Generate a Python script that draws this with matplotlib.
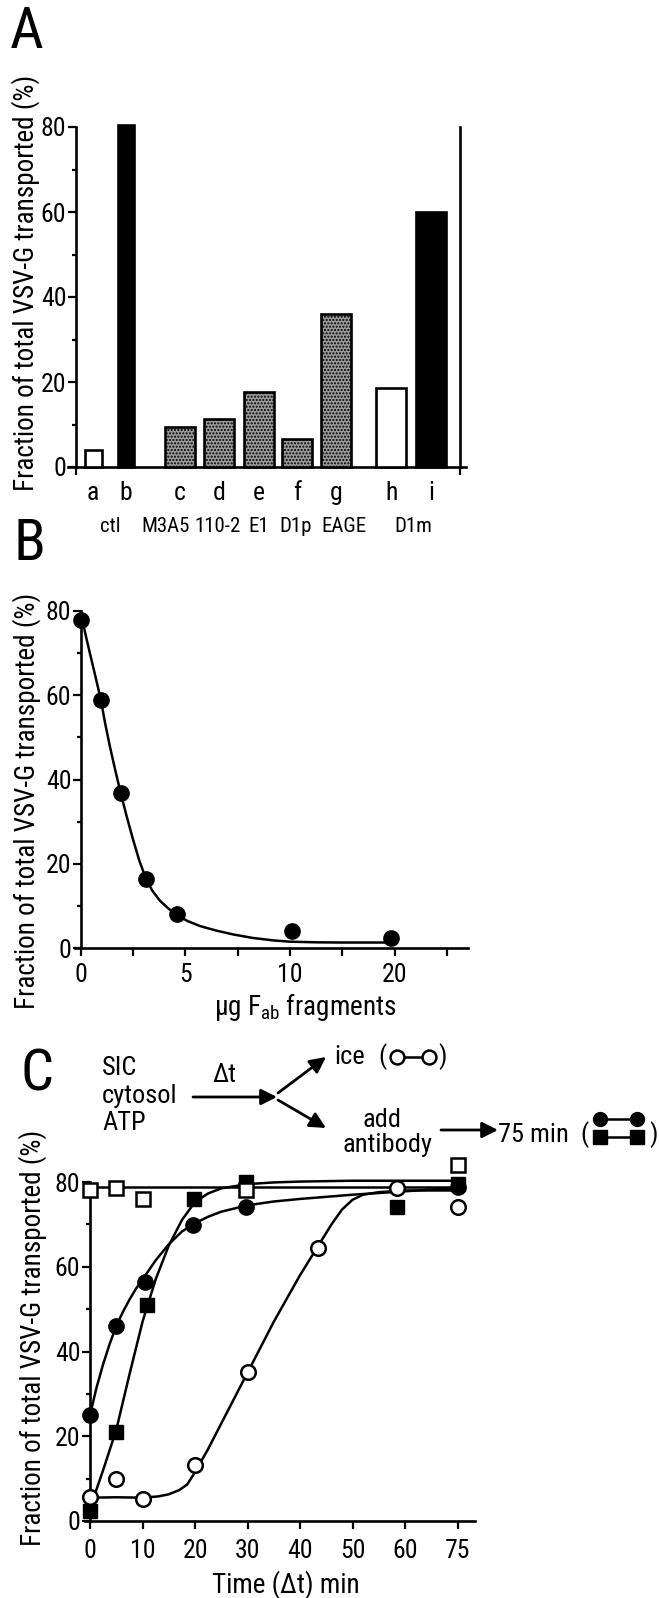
import numpy as np
import matplotlib
matplotlib.use("Agg")
import matplotlib.pyplot as plt
from matplotlib.ticker import FixedLocator

plt.rcParams['font.family'] = ['Liberation Sans Narrow', 'Roboto Condensed', 'Liberation Sans', 'DejaVu Sans']
plt.rcParams['mathtext.fontset'] = 'custom'
plt.rcParams['mathtext.rm'] = 'Roboto Condensed'
plt.rcParams['mathtext.it'] = 'Roboto Condensed'
plt.rcParams['hatch.linewidth'] = 1.0

# ---------------- data ----------------
# Panel A
bar_letters = ['a', 'b', 'c', 'd', 'e', 'f', 'g', 'h', 'i']
bar_values = [4.0, 80.5, 9.4, 11.4, 17.7, 6.5, 36.0, 18.7, 60.0]
bar_styles = ['open', 'solid', 'stipple', 'stipple', 'stipple', 'stipple', 'stipple', 'open', 'solid']
group_labels = ['ctl', 'M3A5', '110-2', 'E1', 'D1p', 'EAGE', 'D1m']

# Panel B
fab_ug = [0, 0.95, 1.9, 3.1, 4.6, 10.2, 19.7]
fab_transport = [77.9, 58.9, 36.8, 16.3, 8.1, 4.0, 2.4]
fab_fit_x = [0, 0.2, 0.43, 0.7, 0.95, 1.15, 1.39, 1.65, 1.9, 2.2, 2.5, 2.8, 3.1, 3.4,
             3.78, 4.2, 4.6, 5.1, 5.7, 6.5, 7.3, 8.2, 9.2, 10, 12.5, 15, 17.5, 20]
fab_fit_y = [79.5, 74.8, 69.9, 64.3, 58.9, 53.5, 47.7, 42.0, 36.8, 31.0, 25.6, 20.6, 16.6, 13.7,
             11.2, 9.3, 7.8, 6.4, 5.2, 4.1, 3.2, 2.4, 1.8, 1.5, 1.35, 1.3, 1.3, 1.3]
fab_ticks = [0, 2.5, 5, 7.5, 10, 15, 20, 25]
fab_ticklabels = ['0', '', '5', '', '10', '', '20', '']

# Panel C
time_ice = [0, 5, 10, 20, 30, 43.5, 58.5, 75]
ice_vals = [5.7, 9.8, 5.3, 13.1, 35.2, 64.5, 78.5, 74.0]
time_ab_circ = [0, 5, 10.5, 19.6, 29.8, 75]
ab_circ_vals = [25.0, 46.0, 56.5, 69.8, 74.2, 78.8]
time_ab_sq = [0, 5, 10.8, 19.8, 29.8, 58.5, 75]
ab_sq_vals = [2.3, 21.0, 51.0, 76.0, 80.0, 74.0, 79.5]
time_open_sq = [0, 5, 10, 29.8, 75]
open_sq_vals = [78.2, 78.6, 76.0, 78.0, 84.0]

fit_ice_x = [0, 5, 10, 13, 15, 17, 18.5, 20, 22.5, 25, 27.5, 30, 32.5, 35, 37.5, 40, 43.5,
             46, 48, 50, 52, 55, 60, 67, 75]
fit_ice_y = [5.5, 5.6, 5.5, 5.8, 6.3, 7.3, 8.6, 11.5, 17.0, 23.0, 29.0, 35.0, 41.0, 47.0,
             52.5, 58.0, 65.0, 70.0, 73.5, 75.8, 77.0, 77.6, 78.0, 78.0, 78.0]
fit_circ_x = [0, 1.25, 2.5, 3.75, 5, 6.25, 7.5, 8.75, 10, 12.5, 15, 17.5, 20, 22.5, 25, 30,
              35, 40, 50, 60, 67, 75]
fit_circ_y = [25.0, 31.5, 37.0, 41.8, 46.0, 49.3, 52.2, 54.8, 57.0, 61.5, 65.3, 68.3, 70.3,
              71.8, 73.0, 74.5, 75.4, 76.0, 77.0, 77.8, 78.2, 78.5]
fit_sq_x = [0, 2.5, 5, 7.5, 10, 12.5, 15, 17.5, 20, 22.5, 25, 30, 35, 40, 50, 60, 67, 75]
fit_sq_y = [3.0, 12.0, 21.5, 34.5, 47.0, 57.0, 65.0, 71.0, 75.3, 77.3, 78.5, 79.5, 79.9,
            80.1, 80.3, 80.3, 80.3, 80.3]
fit_open_x = [0, 75]
fit_open_y = [78.8, 78.8]
time_ticks = [0, 10, 20, 30, 40, 50, 60, 75]

# ---------------- figure ----------------
W, H = 659, 1598
fig = plt.figure(figsize=(W / 100, H / 100), dpi=100)


def rect(x0, x1, ytop, ybot):
    return [x0 / W, 1 - ybot / H, (x1 - x0) / W, (ybot - ytop) / H]


LW = 1.9
TICKFS = 18.5
LABFS = 19.5


def style_axes(ax):
    for s in ['top', 'right']:
        ax.spines[s].set_visible(False)
    for s in ['left', 'bottom']:
        ax.spines[s].set_linewidth(LW)
    ax.spines['left'].set_position(('data', 0))
    ax.tick_params(which='major', direction='out', length=6, width=1.6, labelsize=TICKFS, pad=1)
    ax.tick_params(which='minor', direction='out', length=3, width=1.6)
    ax.set_ylim(0, 80)
    ax.set_yticks([0, 20, 40, 60, 80])
    ax.yaxis.set_minor_locator(FixedLocator([10, 30, 50, 70]))
    ax.set_facecolor('none')


# ---- Panel A ----
axA = fig.add_axes(rect(68, 466, 127, 467))
style_axes(axA)
positions = [0.43, 1.25, 2.6, 3.58, 4.58, 5.53, 6.5, 7.88, 8.88]
widths = [0.43, 0.40, 0.76, 0.76, 0.76, 0.76, 0.76, 0.76, 0.76]
for p, w, v, st in zip(positions, widths, bar_values, bar_styles):
    if st == 'open':
        axA.bar(p, v, w, facecolor='white', edgecolor='black', linewidth=LW, clip_on=False, zorder=3)
    elif st == 'solid':
        axA.bar(p, v, w, facecolor='black', edgecolor='black', linewidth=LW, clip_on=False, zorder=3)
    else:
        axA.bar(p, v, w, facecolor='#9a9a9a', edgecolor='black', hatch='.....',
                linewidth=LW, clip_on=False, zorder=3)
axA.set_xlim(-0.2, 9.75)
axA.spines['right'].set_visible(True)
axA.spines['right'].set_linewidth(LW)
axA.spines['right'].set_position(('data', 9.6))
axA.set_xticks(positions)
axA.set_xticklabels(bar_letters, fontsize=TICKFS)
axA.tick_params(axis='x', which='major', length=0, pad=10)
axA.xaxis.set_minor_locator(FixedLocator([0, 9.6]))
axA.tick_params(axis='x', which='minor', length=6, width=1.6)
axA.tick_params(axis='y', which='both', right=False)

# ---- Panel B ----
def fwdB(x):
    x = np.asarray(x, float)
    return np.where(x <= 10, x, 10 + (x - 10) / 2)


def invB(y):
    y = np.asarray(y, float)
    return np.where(y <= 10, y, 10 + (y - 10) * 2)


axB = fig.add_axes(rect(74.7, 467.7, 611, 948))
axB.set_xscale('function', functions=(fwdB, invB))
style_axes(axB)
axB.set_xlim(-0.3, 27)
axB.set_xticks(fab_ticks)
axB.set_xticklabels(fab_ticklabels)
axB.xaxis.set_minor_locator(FixedLocator([]))
axB.tick_params(axis='x', pad=5)
axB.plot(fab_fit_x, fab_fit_y, color='black', lw=1.8, clip_on=False, zorder=3)
axB.plot(fab_ug, fab_transport, 'o', color='black', ms=11, clip_on=False, zorder=4)

# ---- Panel C ----
def fwdC(x):
    x = np.asarray(x, float)
    return np.where(x <= 60, x, 60 + (x - 60) * 2 / 3)


def invC(y):
    y = np.asarray(y, float)
    return np.where(y <= 60, y, 60 + (y - 60) * 1.5)


axC = fig.add_axes(rect(84.75, 475, 1182, 1521))
axC.set_xscale('function', functions=(fwdC, invC))
style_axes(axC)
axC.set_xlim(-1, 80)
axC.set_xticks(time_ticks)
axC.set_xticklabels([str(t) for t in time_ticks])
axC.xaxis.set_minor_locator(FixedLocator([]))
axC.tick_params(axis='x', pad=7)

for fx, fy in [(fit_open_x, fit_open_y), (fit_sq_x, fit_sq_y), (fit_circ_x, fit_circ_y),
               (fit_ice_x, fit_ice_y)]:
    axC.plot(fx, fy, color='black', lw=1.8, clip_on=False, zorder=3)
axC.plot(time_ab_circ, ab_circ_vals, 'o', color='black', ms=11, clip_on=False, zorder=4)
axC.plot(time_ab_sq, ab_sq_vals, 's', color='black', ms=10.5, clip_on=False, zorder=4)
axC.plot(time_open_sq, open_sq_vals, 's', mfc='white', mec='black', mew=1.8, ms=10.5,
         clip_on=False, zorder=5)
axC.plot(time_ice, ice_vals, 'o', mfc='white', mec='black', mew=1.8, ms=10.5,
         clip_on=False, zorder=5)

# ---------------- overlay texts ----------------
ov = fig.add_axes([0, 0, 1, 1])
ov.set_xlim(0, W)
ov.set_ylim(H, 0)
ov.axis('off')

# group labels under panel A
group_px = [110, 166, 218, 259, 296, 344, 413]
for gx, gl in zip(group_px, group_labels):
    ov.text(gx, 526, gl, ha='center', va='center', fontsize=15)

ylab = 'Fraction of total VSV-G transported (%)'
ov.text(26, 283, ylab, rotation=90, ha='center', va='center', fontsize=LABFS)
ov.text(27, 801, ylab, rotation=90, ha='center', va='center', fontsize=LABFS)
ov.text(33, 1338, ylab, rotation=90, ha='center', va='center', fontsize=LABFS)

ov.text(27, 33, 'A', ha='center', va='center', fontsize=42)
ov.text(29, 545, 'B', ha='center', va='center', fontsize=42)
ov.text(37, 1075, 'C', ha='center', va='center', fontsize=42)

ov.text(305, 1007, r'µg F$_{\mathrm{ab}}$ fragments', ha='center', va='center', fontsize=LABFS)
ov.text(286, 1585, 'Time (Δt) min', ha='center', va='center', fontsize=LABFS)

# scheme in panel C
DFS = 19
ov.text(102, 1075, 'SIC', ha='left', va='baseline', fontsize=DFS)
ov.text(102, 1103, 'cytosol', ha='left', va='baseline', fontsize=DFS)
ov.text(102, 1130, 'ATP', ha='left', va='baseline', fontsize=DFS)
ov.text(224, 1082, 'Δt', ha='center', va='baseline', fontsize=DFS)
arrow_kw = dict(arrowstyle='-|>', lw=2.0, color='black', mutation_scale=24,
                shrinkA=0, shrinkB=0)
ov.annotate('', xy=(277, 1097), xytext=(193, 1097), arrowprops=arrow_kw)
ov.annotate('', xy=(326, 1057), xytext=(278, 1093), arrowprops=arrow_kw)
ov.annotate('', xy=(326, 1128), xytext=(278, 1100), arrowprops=arrow_kw)
ov.text(334, 1064, 'ice', ha='left', va='baseline', fontsize=DFS)
ov.text(382, 1064, '(', ha='center', va='baseline', fontsize=DFS)
ov.plot([397, 429], [1057, 1057], '-o', color='black', mfc='white', mec='black',
        mew=1.8, ms=10, lw=1.8)
ov.text(443, 1064, ')', ha='center', va='baseline', fontsize=DFS)
ov.text(382, 1127, 'add', ha='center', va='baseline', fontsize=DFS)
ov.text(387, 1152, 'antibody', ha='center', va='baseline', fontsize=DFS)
ov.annotate('', xy=(498, 1130), xytext=(441, 1130), arrowprops=arrow_kw)
ov.text(498, 1142, '75 min', ha='left', va='baseline', fontsize=DFS)
ov.text(584, 1142, '(', ha='center', va='baseline', fontsize=DFS)
ov.plot([600, 637], [1119, 1119], '-o', color='black', ms=10, lw=1.8)
ov.plot([600, 637], [1137, 1137], '-s', color='black', ms=9.5, lw=1.8)
ov.text(654, 1142, ')', ha='center', va='baseline', fontsize=DFS)

fig.savefig('out.png', dpi=100)
